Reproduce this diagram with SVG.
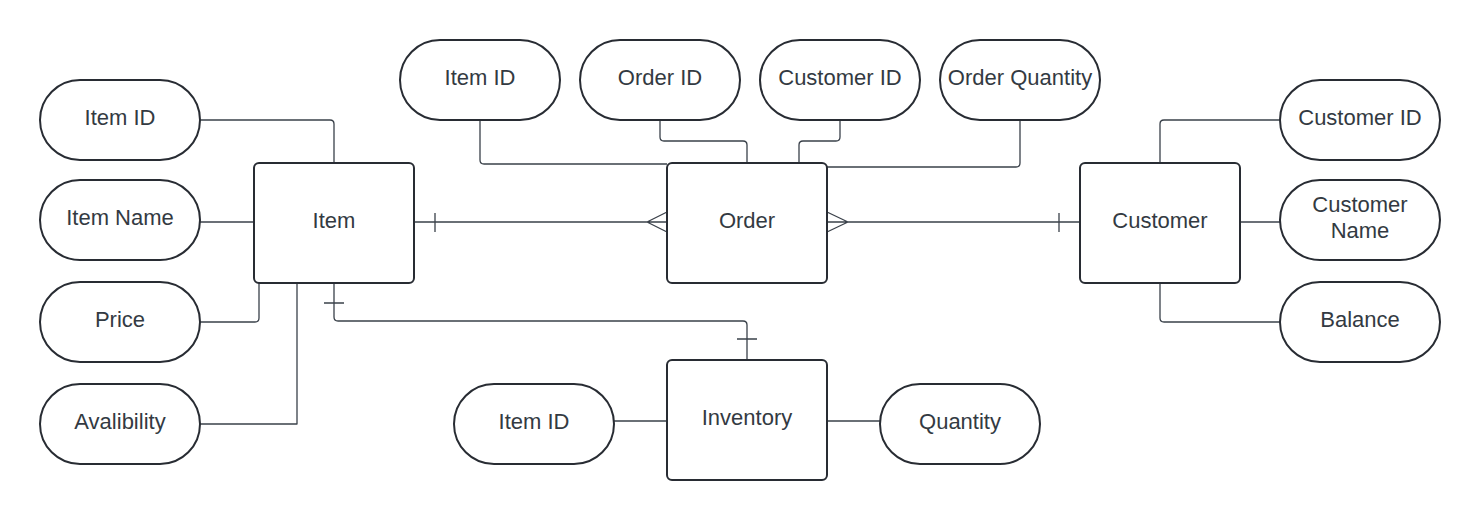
<svg xmlns="http://www.w3.org/2000/svg" width="1480" height="520" viewBox="0 0 1480 520">
<style>
.pill{fill:#fff;stroke:#282c33;stroke-width:2}
.ent{fill:#fff;stroke:#282c33;stroke-width:2}
text{font-family:"Liberation Sans",Arial,sans-serif;font-size:22px;fill:#333a42;text-anchor:middle}
.c{fill:none;stroke:#3a414a;stroke-width:1.3;stroke-linejoin:round}
</style>
<rect width="1480" height="520" fill="#fff"/>
<g id="connectors">
<path class="c" d="M200,120 H330 Q334,120 334,124 V163"/>
<path class="c" d="M200,222 H254"/>
<path class="c" d="M200,322 H255 Q259,322 259,318 V283"/>
<path class="c" d="M200,424 H297 V283"/>
<path class="c" d="M334,283 V317 Q334,321 338,321 H743 Q747,321 747,325 V360"/>
<path class="c" d="M324,303 H344 M737,339 H757"/>
<path class="c" d="M414,222 H667 M435,213 V232 M667,212 L647,222 L667,232"/>
<path class="c" d="M827,222 H1080 M1059,213 V232 M827,212 L848,222 L827,232"/>
<path class="c" d="M480,120 V160 Q480,164 484,164 H667"/>
<path class="c" d="M660,120 V137 Q660,141 664,141 H743 Q747,141 747,145 V163"/>
<path class="c" d="M840,120 V137 Q840,141 836,141 H803 Q799,141 799,145 V163"/>
<path class="c" d="M1020,120 V163 Q1020,167 1016,167 H827"/>
<path class="c" d="M1280,120 H1164 Q1160,120 1160,124 V163"/>
<path class="c" d="M1240,222 H1280"/>
<path class="c" d="M1160,283 V318 Q1160,322 1164,322 H1280"/>
<path class="c" d="M614,421 H667 M827,421 H880"/>
</g>
<g id="item"><rect class="ent" x="254" y="163" width="160" height="120" rx="5"/><text x="334" y="228">Item</text></g>
<g id="order"><rect class="ent" x="667" y="163" width="160" height="120" rx="5"/><text x="747" y="228">Order</text></g>
<g id="customer"><rect class="ent" x="1080" y="163" width="160" height="120" rx="5"/><text x="1160" y="228">Customer</text></g>
<g id="inventory"><rect class="ent" x="667" y="360" width="160" height="120" rx="5"/><text x="747" y="425">Inventory</text></g>
<g id="item-id"><rect class="pill" x="40" y="80" width="160" height="80" rx="40"/><text x="120" y="125">Item ID</text></g>
<g id="item-name"><rect class="pill" x="40" y="180" width="160" height="80" rx="40"/><text x="120" y="225">Item Name</text></g>
<g id="price"><rect class="pill" x="40" y="282" width="160" height="80" rx="40"/><text x="120" y="327">Price</text></g>
<g id="availability"><rect class="pill" x="40" y="384" width="160" height="80" rx="40"/><text x="120" y="429">Avalibility</text></g>
<g id="order-item-id"><rect class="pill" x="400" y="40" width="160" height="80" rx="40"/><text x="480" y="85">Item ID</text></g>
<g id="order-order-id"><rect class="pill" x="580" y="40" width="160" height="80" rx="40"/><text x="660" y="85">Order ID</text></g>
<g id="order-customer-id"><rect class="pill" x="760" y="40" width="160" height="80" rx="40"/><text x="840" y="85">Customer ID</text></g>
<g id="order-quantity"><rect class="pill" x="940" y="40" width="160" height="80" rx="40"/><text x="1020" y="85">Order Quantity</text></g>
<g id="customer-id"><rect class="pill" x="1280" y="80" width="160" height="80" rx="40"/><text x="1360" y="125">Customer ID</text></g>
<g id="customer-name"><rect class="pill" x="1280" y="180" width="160" height="80" rx="40"/><text x="1360" y="212">Customer</text><text x="1360" y="238">Name</text></g>
<g id="balance"><rect class="pill" x="1280" y="282" width="160" height="80" rx="40"/><text x="1360" y="327">Balance</text></g>
<g id="inv-item-id"><rect class="pill" x="454" y="384" width="160" height="80" rx="40"/><text x="534" y="429">Item ID</text></g>
<g id="quantity"><rect class="pill" x="880" y="384" width="160" height="80" rx="40"/><text x="960" y="429">Quantity</text></g>
</svg>
